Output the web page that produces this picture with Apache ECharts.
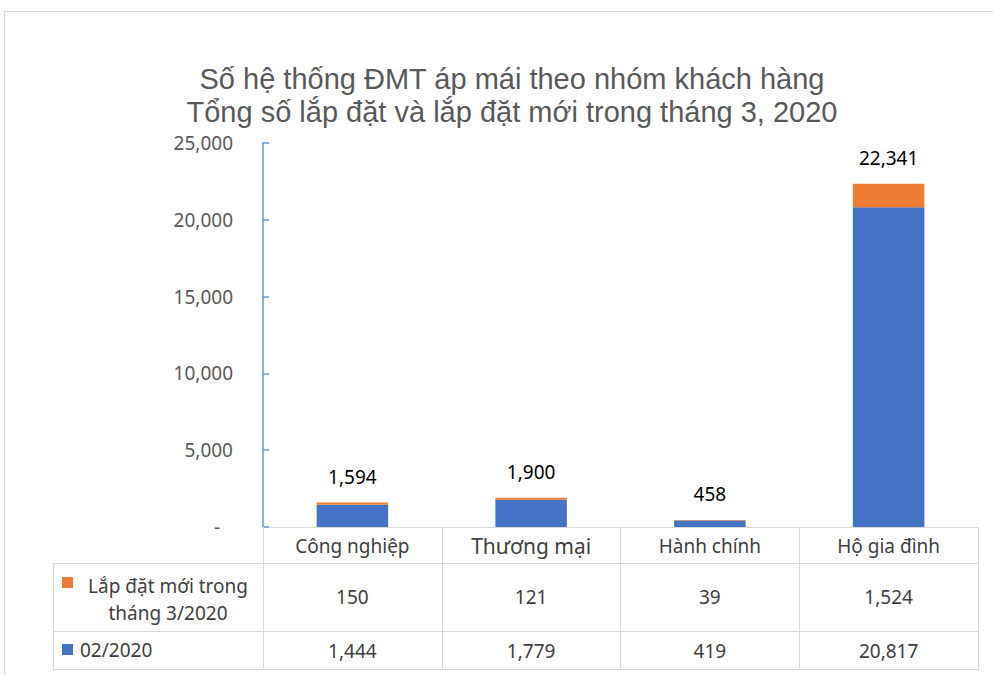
<!DOCTYPE html>
<html>
<head>
<meta charset="utf-8">
<script src="https://cdn.jsdelivr.net/npm/echarts@6/dist/echarts.min.js"></script>
<style>
  html, body { margin: 0; padding: 0; background: #fff; }
  #main { width: 993px; height: 675px; }
</style>
</head>
<body>
<div id="main"></div>
<script>
// dữ liệu
const categories = ['Công nghiệp', 'Thương mại', 'Hành chính', 'Hộ gia đình'];
const febValues = [1444, 1779, 419, 20817];     // 02/2020
const newValues = [150, 121, 39, 1524];         // lắp đặt mới tháng 3/2020
const totalLabels = [1594, 1900, 458, 22341];   // nhãn tổng trên cột
const seriesNames = ['Lắp đặt mới trong tháng 3/2020', '02/2020'];
const rowHeaders = ['Lắp đặt mới trong\ntháng 3/2020', '02/2020'];
const titleLines = ['Số hệ thống ĐMT áp mái theo nhóm khách hàng', 'Tổng số lắp đặt và lắp đặt mới trong tháng 3, 2020'];

const FONT = '"Noto Sans", sans-serif';
const fmt = v => v.toLocaleString('en-US');

var chartDom = document.getElementById('main');
var myChart = echarts.init(chartDom, null, { renderer: 'svg' });

// bảng dữ liệu dưới trục x: mỗi hàng là một trục category riêng
function tableAxis(values, margin) {
    return {
        type: 'category',
        gridIndex: 0,
        position: 'bottom',
        data: values.map(fmt),
        axisLine: { show: false },
        axisTick: { show: false },
        axisLabel: {
            margin: margin,
            verticalAlign: 'middle',
            color: '#404040',
            fontSize: 19,
            fontFamily: FONT
        }
    };
}

// tiêu đề: dùng Liberation Sans để hai dòng sát nhau không chồng hộp chữ
var titleStyle = {
    color: '#595959',
    fontSize: 29,
    lineHeight: 33,
    fontWeight: 'normal',
    fontFamily: '"Liberation Sans", Arial, sans-serif'
};

var option = {
    animation: false,
    backgroundColor: '#fff',
    title: {
        text: titleLines[0],
        subtext: titleLines[1],
        left: 507,
        top: 57,
        itemGap: 0,
        textAlign: 'center',
        textStyle: titleStyle,
        subtextStyle: titleStyle
    },
    grid: { left: 263, right: 15, top: 143, bottom: 148 },
    xAxis: [
        {
            type: 'category',
            data: categories.map(c => c === 'Thương mại'
                ? { value: c, textStyle: { fontSize: 21, verticalAlign: 'middle' } } : c),
            axisLine: { lineStyle: { color: '#D9D9D9', width: 1 } },
            axisTick: { show: true, length: 143, lineStyle: { color: '#D9D9D9' } },
            axisLabel: {
                margin: 19,
                verticalAlign: 'middle',
                color: '#404040',
                fontSize: 19,
                fontFamily: FONT
            }
        },
        tableAxis(newValues, 70),
        tableAxis(febValues, 124)
    ],
    yAxis: {
        type: 'value',
        min: 0,
        max: 25000,
        interval: 5000,
        splitLine: { show: false },
        axisLine: { show: true, lineStyle: { color: '#5B9BD5', width: 1.5 } },
        axisTick: { show: true, inside: true, length: 6, lineStyle: { color: '#5B9BD5', width: 1.5 } },
        axisLabel: {
            margin: 30,
            color: '#595959',
            fontSize: 19,
            fontFamily: FONT,
            formatter: v => v === 0 ? '{d|-}' : fmt(v),
            rich: { d: { padding: [0, 13, 0, 0], color: '#595959', fontSize: 19, fontFamily: FONT } }
        }
    },
    series: [
        {
            name: seriesNames[1],
            type: 'bar',
            stack: 'total',
            barWidth: '40%',
            itemStyle: { color: '#4472C4' },
            data: febValues
        },
        {
            name: seriesNames[0],
            type: 'bar',
            stack: 'total',
            barWidth: '40%',
            itemStyle: { color: '#ED7D31' },
            label: {
                show: true,
                position: 'top',
                distance: 16,
                color: '#000',
                fontSize: 19,
                fontFamily: FONT,
                formatter: p => fmt(totalLabels[p.dataIndex])
            },
            data: newValues
        }
    ],
    graphic: [
        // khung biểu đồ
        { type: 'rect', silent: true, shape: { x: 4.5, y: 11.5, width: 1200, height: 1000 },
          style: { fill: 'none', stroke: '#D9D9D9', lineWidth: 1 } },
        // đường kẻ bảng
        { type: 'line', silent: true, shape: { x1: 53, y1: 563.5, x2: 978, y2: 563.5 }, style: { stroke: '#D9D9D9', lineWidth: 1 } },
        { type: 'line', silent: true, shape: { x1: 53, y1: 631.5, x2: 978, y2: 631.5 }, style: { stroke: '#D9D9D9', lineWidth: 1 } },
        { type: 'line', silent: true, shape: { x1: 53, y1: 669.5, x2: 978, y2: 669.5 }, style: { stroke: '#D9D9D9', lineWidth: 1 } },
        { type: 'line', silent: true, shape: { x1: 53.5, y1: 563, x2: 53.5, y2: 670 }, style: { stroke: '#D9D9D9', lineWidth: 1 } },
        // chú giải trong bảng
        { type: 'rect', silent: true, shape: { x: 62, y: 577, width: 11, height: 11 }, style: { fill: '#ED7D31' } },
        { type: 'text', silent: true, x: 168, y: 572,
          style: { text: rowHeaders[0], textAlign: 'center', fill: '#404040', fontSize: 19, lineHeight: 27, fontFamily: FONT } },
        { type: 'rect', silent: true, shape: { x: 62, y: 644, width: 11, height: 11 }, style: { fill: '#4472C4' } },
        { type: 'text', silent: true, x: 80, y: 637,
          style: { text: rowHeaders[1], textAlign: 'left', fill: '#404040', fontSize: 19, lineHeight: 25, fontFamily: FONT } }
    ]
};

myChart.setOption(option);
</script>
</body>
</html>
